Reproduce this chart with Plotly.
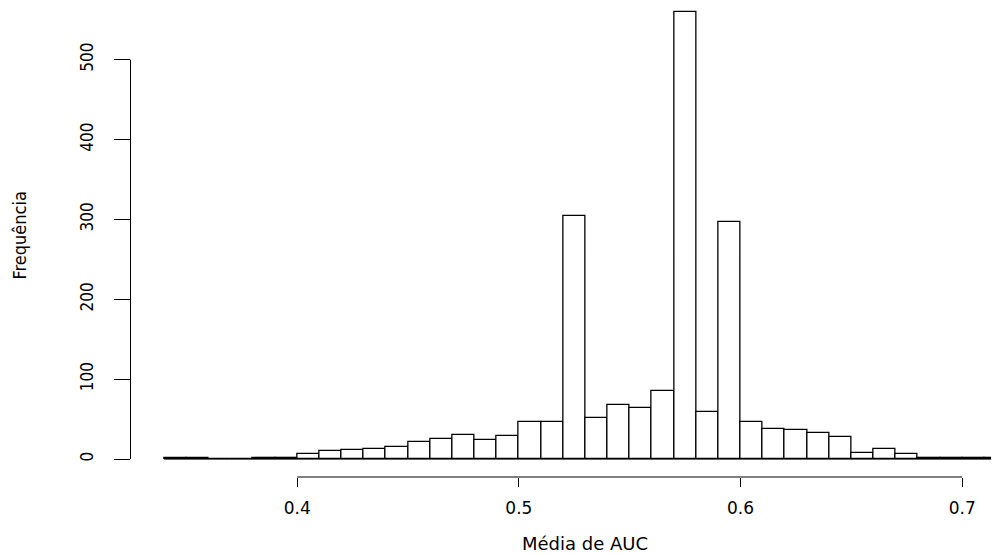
import plotly.graph_objects as go

# Histogram data (bin width 0.01, from 0.34 to 0.72)
bin_start = 0.34
bin_width = 0.01
counts = [1, 1, 0, 0, 2, 1, 7, 10, 12, 13, 15, 21, 25, 30, 24, 29, 46, 46,
          305, 52, 68, 64, 85, 560, 59, 297, 47, 38, 36, 33, 28, 8, 13, 7,
          1, 2, 1, 2]
x_tick_vals = [0.4, 0.5, 0.6, 0.7]
x_tick_text = ["0.4", "0.5", "0.6", "0.7"]
y_tick_vals = [0, 100, 200, 300, 400, 500]
y_tick_text = ["0", "100", "200", "300", "400", "500"]

centers = [bin_start + bin_width * (i + 0.5) for i in range(len(counts))]
edge_lo = bin_start
edge_hi = bin_start + bin_width * len(counts)

# the page body has an 8px margin, so the figure is sized to fit inside it
OFF = 8
W, H = 999 - OFF, 555 - OFF
x_dom0 = (130.5 - OFF) / W
y_dom0 = (H - (477 - OFF)) / H

fig = go.Figure()
fig.add_trace(go.Bar(
    x=centers, y=counts, width=bin_width,
    marker=dict(color="white", line=dict(color="black", width=1.3)),
    hoverinfo="x+y",
))

fig.update_layout(
    width=W, height=H,
    margin=dict(l=0, r=0, t=0, b=0),
    plot_bgcolor="white", paper_bgcolor="white",
    showlegend=False,
    bargap=0,
    xaxis=dict(
        domain=[x_dom0, 1], range=[0.3248, 0.7166],
        showgrid=False, zeroline=False, showline=False,
        tickmode="array", tickvals=x_tick_vals, ticktext=x_tick_text,
        ticks="outside", ticklen=9, tickwidth=1, tickcolor="black",
        tickfont=dict(family="DejaVu Sans", size=17, color="black"),
        ticklabelstandoff=7,
    ),
    yaxis=dict(
        domain=[y_dom0, 1], range=[-22.4, 564.8],
        showgrid=False, zeroline=False, showline=False,
        tickmode="array", tickvals=y_tick_vals, ticktext=y_tick_text,
        ticks="outside", ticklen=16, tickwidth=1, tickcolor="black",
        tickangle=-90,
        tickfont=dict(family="DejaVu Sans Condensed", size=17, color="black"),
        ticklabelstandoff=14,
    ),
    shapes=[
        # R-style axis segments spanning only the tick range
        dict(type="line", xref="x", yref="paper", x0=x_tick_vals[0], x1=x_tick_vals[-1],
             y0=y_dom0, y1=y_dom0, line=dict(color="black", width=1)),
        dict(type="line", xref="paper", yref="y", x0=x_dom0, x1=x_dom0,
             y0=y_tick_vals[0], y1=y_tick_vals[-1], line=dict(color="black", width=1)),
        # baseline under the histogram (zero-count bins)
        dict(type="line", xref="x", yref="y", x0=edge_lo, x1=edge_hi, y0=0, y1=0,
             line=dict(color="black", width=1)),
    ],
    annotations=[
        dict(text="Média de AUC", xref="x", yref="paper", x=(edge_lo + edge_hi) / 2,
             y=0, xanchor="center", yanchor="bottom", showarrow=False,
             borderpad=0,
             font=dict(family="DejaVu Sans", size=18, color="black")),
        dict(text="Frequência", xref="paper", yref="y", x=(19 - OFF) / W, y=280,
             xanchor="center", yanchor="middle", textangle=-90, showarrow=False,
             font=dict(family="DejaVu Sans Condensed", size=18, color="black")),
    ],
)

fig.write_html("out.html")
